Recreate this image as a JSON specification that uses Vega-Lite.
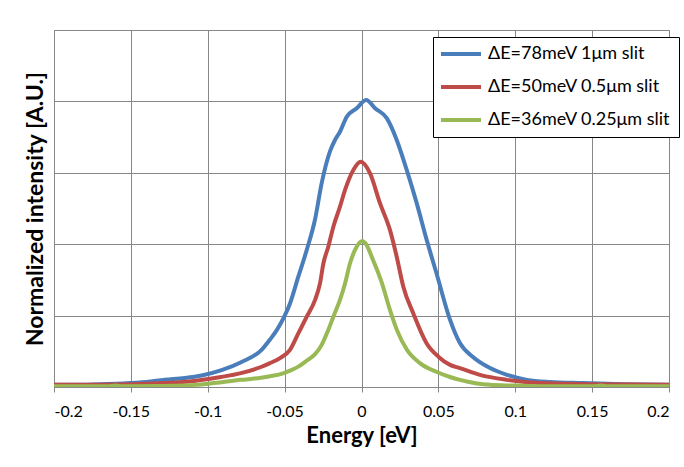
{
  "$schema": "https://vega.github.io/schema/vega-lite/v6.json",
  "width": 615,
  "height": 357,
  "autosize": {"type": "none"},
  "padding": {"left": 54, "top": 30, "right": 15, "bottom": 80},
  "background": "white",
  "config": {
    "font": "Lato",
    "view": {"stroke": "#878787", "strokeWidth": 1}
  },
  "data": {
    "values": [
      {"series": "ΔE=78meV 1μm slit", "E": -0.2, "I": 0.006},
      {"series": "ΔE=78meV 1μm slit", "E": -0.185, "I": 0.006},
      {"series": "ΔE=78meV 1μm slit", "E": -0.17, "I": 0.008},
      {"series": "ΔE=78meV 1μm slit", "E": -0.155, "I": 0.010},
      {"series": "ΔE=78meV 1μm slit", "E": -0.14, "I": 0.014},
      {"series": "ΔE=78meV 1μm slit", "E": -0.128, "I": 0.020},
      {"series": "ΔE=78meV 1μm slit", "E": -0.115, "I": 0.025},
      {"series": "ΔE=78meV 1μm slit", "E": -0.104, "I": 0.032},
      {"series": "ΔE=78meV 1μm slit", "E": -0.091, "I": 0.047},
      {"series": "ΔE=78meV 1μm slit", "E": -0.078, "I": 0.070},
      {"series": "ΔE=78meV 1μm slit", "E": -0.065, "I": 0.104},
      {"series": "ΔE=78meV 1μm slit", "E": -0.0595, "I": 0.133},
      {"series": "ΔE=78meV 1μm slit", "E": -0.055, "I": 0.160},
      {"series": "ΔE=78meV 1μm slit", "E": -0.05, "I": 0.199},
      {"series": "ΔE=78meV 1μm slit", "E": -0.0465, "I": 0.234},
      {"series": "ΔE=78meV 1μm slit", "E": -0.0411, "I": 0.309},
      {"series": "ΔE=78meV 1μm slit", "E": -0.0356, "I": 0.384},
      {"series": "ΔE=78meV 1μm slit", "E": -0.0302, "I": 0.470},
      {"series": "ΔE=78meV 1μm slit", "E": -0.0259, "I": 0.571},
      {"series": "ΔE=78meV 1μm slit", "E": -0.0205, "I": 0.660},
      {"series": "ΔE=78meV 1μm slit", "E": -0.0172, "I": 0.692},
      {"series": "ΔE=78meV 1μm slit", "E": -0.014, "I": 0.715},
      {"series": "ΔE=78meV 1μm slit", "E": -0.0096, "I": 0.757},
      {"series": "ΔE=78meV 1μm slit", "E": -0.0031, "I": 0.781},
      {"series": "ΔE=78meV 1μm slit", "E": 0.0031, "I": 0.804},
      {"series": "ΔE=78meV 1μm slit", "E": 0.0088, "I": 0.781},
      {"series": "ΔE=78meV 1μm slit", "E": 0.0164, "I": 0.753},
      {"series": "ΔE=78meV 1μm slit", "E": 0.0229, "I": 0.692},
      {"series": "ΔE=78meV 1μm slit", "E": 0.0294, "I": 0.608},
      {"series": "ΔE=78meV 1μm slit", "E": 0.0359, "I": 0.515},
      {"series": "ΔE=78meV 1μm slit", "E": 0.0424, "I": 0.412},
      {"series": "ΔE=78meV 1μm slit", "E": 0.049, "I": 0.315},
      {"series": "ΔE=78meV 1μm slit", "E": 0.0576, "I": 0.188},
      {"series": "ΔE=78meV 1μm slit", "E": 0.064, "I": 0.123},
      {"series": "ΔE=78meV 1μm slit", "E": 0.0725, "I": 0.084},
      {"series": "ΔE=78meV 1μm slit", "E": 0.0836, "I": 0.053},
      {"series": "ΔE=78meV 1μm slit", "E": 0.0946, "I": 0.034},
      {"series": "ΔE=78meV 1μm slit", "E": 0.1076, "I": 0.020},
      {"series": "ΔE=78meV 1μm slit", "E": 0.1226, "I": 0.014},
      {"series": "ΔE=78meV 1μm slit", "E": 0.144, "I": 0.011},
      {"series": "ΔE=78meV 1μm slit", "E": 0.17, "I": 0.008},
      {"series": "ΔE=78meV 1μm slit", "E": 0.2, "I": 0.006},

      {"series": "ΔE=50meV 0.5μm slit", "E": -0.2, "I": 0.006},
      {"series": "ΔE=50meV 0.5μm slit", "E": -0.17, "I": 0.006},
      {"series": "ΔE=50meV 0.5μm slit", "E": -0.1285, "I": 0.011},
      {"series": "ΔE=50meV 0.5μm slit", "E": -0.109, "I": 0.017},
      {"series": "ΔE=50meV 0.5μm slit", "E": -0.0914, "I": 0.028},
      {"series": "ΔE=50meV 0.5μm slit", "E": -0.0784, "I": 0.039},
      {"series": "ΔE=50meV 0.5μm slit", "E": -0.0654, "I": 0.056},
      {"series": "ΔE=50meV 0.5μm slit", "E": -0.0595, "I": 0.067},
      {"series": "ΔE=50meV 0.5μm slit", "E": -0.053, "I": 0.081},
      {"series": "ΔE=50meV 0.5μm slit", "E": -0.0465, "I": 0.104},
      {"series": "ΔE=50meV 0.5μm slit", "E": -0.0411, "I": 0.150},
      {"series": "ΔE=50meV 0.5μm slit", "E": -0.0356, "I": 0.197},
      {"series": "ΔE=50meV 0.5μm slit", "E": -0.0302, "I": 0.244},
      {"series": "ΔE=50meV 0.5μm slit", "E": -0.027, "I": 0.290},
      {"series": "ΔE=50meV 0.5μm slit", "E": -0.0248, "I": 0.346},
      {"series": "ΔE=50meV 0.5μm slit", "E": -0.0216, "I": 0.393},
      {"series": "ΔE=50meV 0.5μm slit", "E": -0.0183, "I": 0.449},
      {"series": "ΔE=50meV 0.5μm slit", "E": -0.014, "I": 0.505},
      {"series": "ΔE=50meV 0.5μm slit", "E": -0.0107, "I": 0.552},
      {"series": "ΔE=50meV 0.5μm slit", "E": -0.0053, "I": 0.608},
      {"series": "ΔE=50meV 0.5μm slit", "E": -0.0005, "I": 0.631},
      {"series": "ΔE=50meV 0.5μm slit", "E": 0.0055, "I": 0.599},
      {"series": "ΔE=50meV 0.5μm slit", "E": 0.012, "I": 0.515},
      {"series": "ΔE=50meV 0.5μm slit", "E": 0.0185, "I": 0.440},
      {"series": "ΔE=50meV 0.5μm slit", "E": 0.0229, "I": 0.365},
      {"series": "ΔE=50meV 0.5μm slit", "E": 0.0272, "I": 0.281},
      {"series": "ΔE=50meV 0.5μm slit", "E": 0.0337, "I": 0.206},
      {"series": "ΔE=50meV 0.5μm slit", "E": 0.0424, "I": 0.122},
      {"series": "ΔE=50meV 0.5μm slit", "E": 0.05, "I": 0.085},
      {"series": "ΔE=50meV 0.5μm slit", "E": 0.0576, "I": 0.062},
      {"series": "ΔE=50meV 0.5μm slit", "E": 0.064, "I": 0.053},
      {"series": "ΔE=50meV 0.5μm slit", "E": 0.077, "I": 0.034},
      {"series": "ΔE=50meV 0.5μm slit", "E": 0.0946, "I": 0.020},
      {"series": "ΔE=50meV 0.5μm slit", "E": 0.116, "I": 0.011},
      {"series": "ΔE=50meV 0.5μm slit", "E": 0.1486, "I": 0.008},
      {"series": "ΔE=50meV 0.5μm slit", "E": 0.2, "I": 0.006},

      {"series": "ΔE=36meV 0.25μm slit", "E": -0.2, "I": 0.002},
      {"series": "ΔE=36meV 0.25μm slit", "E": -0.165, "I": 0.002},
      {"series": "ΔE=36meV 0.25μm slit", "E": -0.16, "I": 0.004},
      {"series": "ΔE=36meV 0.25μm slit", "E": -0.155, "I": 0.002},
      {"series": "ΔE=36meV 0.25μm slit", "E": -0.1285, "I": 0.003},
      {"series": "ΔE=36meV 0.25μm slit", "E": -0.1024, "I": 0.008},
      {"series": "ΔE=36meV 0.25μm slit", "E": -0.0784, "I": 0.020},
      {"series": "ΔE=36meV 0.25μm slit", "E": -0.0654, "I": 0.026},
      {"series": "ΔE=36meV 0.25μm slit", "E": -0.0595, "I": 0.030},
      {"series": "ΔE=36meV 0.25μm slit", "E": -0.051, "I": 0.038},
      {"series": "ΔE=36meV 0.25μm slit", "E": -0.0465, "I": 0.046},
      {"series": "ΔE=36meV 0.25μm slit", "E": -0.0411, "I": 0.057},
      {"series": "ΔE=36meV 0.25μm slit", "E": -0.0356, "I": 0.074},
      {"series": "ΔE=36meV 0.25μm slit", "E": -0.0302, "I": 0.092},
      {"series": "ΔE=36meV 0.25μm slit", "E": -0.0259, "I": 0.118},
      {"series": "ΔE=36meV 0.25μm slit", "E": -0.0216, "I": 0.160},
      {"series": "ΔE=36meV 0.25μm slit", "E": -0.0183, "I": 0.197},
      {"series": "ΔE=36meV 0.25μm slit", "E": -0.014, "I": 0.244},
      {"series": "ΔE=36meV 0.25μm slit", "E": -0.0107, "I": 0.290},
      {"series": "ΔE=36meV 0.25μm slit", "E": -0.0075, "I": 0.346},
      {"series": "ΔE=36meV 0.25μm slit", "E": -0.0042, "I": 0.384},
      {"series": "ΔE=36meV 0.25μm slit", "E": 0.0005, "I": 0.409},
      {"series": "ΔE=36meV 0.25μm slit", "E": 0.0025, "I": 0.403},
      {"series": "ΔE=36meV 0.25μm slit", "E": 0.0075, "I": 0.356},
      {"series": "ΔE=36meV 0.25μm slit", "E": 0.0133, "I": 0.291},
      {"series": "ΔE=36meV 0.25μm slit", "E": 0.0185, "I": 0.216},
      {"series": "ΔE=36meV 0.25μm slit", "E": 0.023, "I": 0.160},
      {"series": "ΔE=36meV 0.25μm slit", "E": 0.0296, "I": 0.104},
      {"series": "ΔE=36meV 0.25μm slit", "E": 0.038, "I": 0.067},
      {"series": "ΔE=36meV 0.25μm slit", "E": 0.049, "I": 0.042},
      {"series": "ΔE=36meV 0.25μm slit", "E": 0.0576, "I": 0.028},
      {"series": "ΔE=36meV 0.25μm slit", "E": 0.064, "I": 0.020},
      {"series": "ΔE=36meV 0.25μm slit", "E": 0.0836, "I": 0.006},
      {"series": "ΔE=36meV 0.25μm slit", "E": 0.1, "I": 0.004},
      {"series": "ΔE=36meV 0.25μm slit", "E": 0.116, "I": 0.002},
      {"series": "ΔE=36meV 0.25μm slit", "E": 0.15, "I": 0.002},
      {"series": "ΔE=36meV 0.25μm slit", "E": 0.156, "I": 0.004},
      {"series": "ΔE=36meV 0.25μm slit", "E": 0.16, "I": 0.002},
      {"series": "ΔE=36meV 0.25μm slit", "E": 0.2, "I": 0.002}
    ]
  },
  "mark": {"type": "line", "strokeWidth": 4, "interpolate": "monotone", "clip": true},
  "encoding": {
    "x": {
      "field": "E",
      "type": "quantitative",
      "scale": {"domain": [-0.2, 0.2], "nice": false, "zero": false},
      "axis": {
        "values": [-0.2, -0.15, -0.1, -0.05, 0, 0.05, 0.1, 0.15, 0.2],
        "labelExpr": "'' + datum.value",
        "title": "Energy [eV]",
        "titleFontSize": 22,
        "titleFontWeight": "bold",
        "titleColor": "black",
        "titlePadding": 6,
        "labelFontSize": 16,
        "labelColor": "black",
        "labelPadding": 11,
        "tickSize": 5,
        "tickColor": "#878787",
        "domainColor": "#878787",
        "gridColor": "#878787",
        "gridOpacity": 1,
        "grid": true
      }
    },
    "y": {
      "field": "I",
      "type": "quantitative",
      "scale": {"domain": [0, 1], "nice": false},
      "axis": {
        "values": [0, 0.2, 0.4, 0.6, 0.8, 1.0],
        "labels": false,
        "ticks": false,
        "domain": false,
        "title": "Normalized intensity [A.U.]",
        "titleFontSize": 23,
        "titleFontWeight": "bold",
        "titleColor": "black",
        "titlePadding": 7,
        "gridColor": "#878787",
        "gridOpacity": 1
      }
    },
    "color": {
      "field": "series",
      "type": "nominal",
      "scale": {
        "domain": ["ΔE=78meV 1μm slit", "ΔE=50meV 0.5μm slit", "ΔE=36meV 0.25μm slit"],
        "range": ["#4A7EBB", "#BE4B48", "#98B954"]
      },
      "legend": {
        "title": null,
        "orient": "none",
        "legendX": 379,
        "legendY": 7,
        "strokeColor": "black",
        "fillColor": "white",
        "padding": 8,
        "symbolType": "M-2.25,0H7.75",
        "symbolSize": 64,
        "symbolStrokeWidth": 4,
        "labelFontSize": 18,
        "labelColor": "black",
        "labelOffset": 29,
        "rowPadding": 15,
        "labelLimit": 300
      }
    }
  }
}
